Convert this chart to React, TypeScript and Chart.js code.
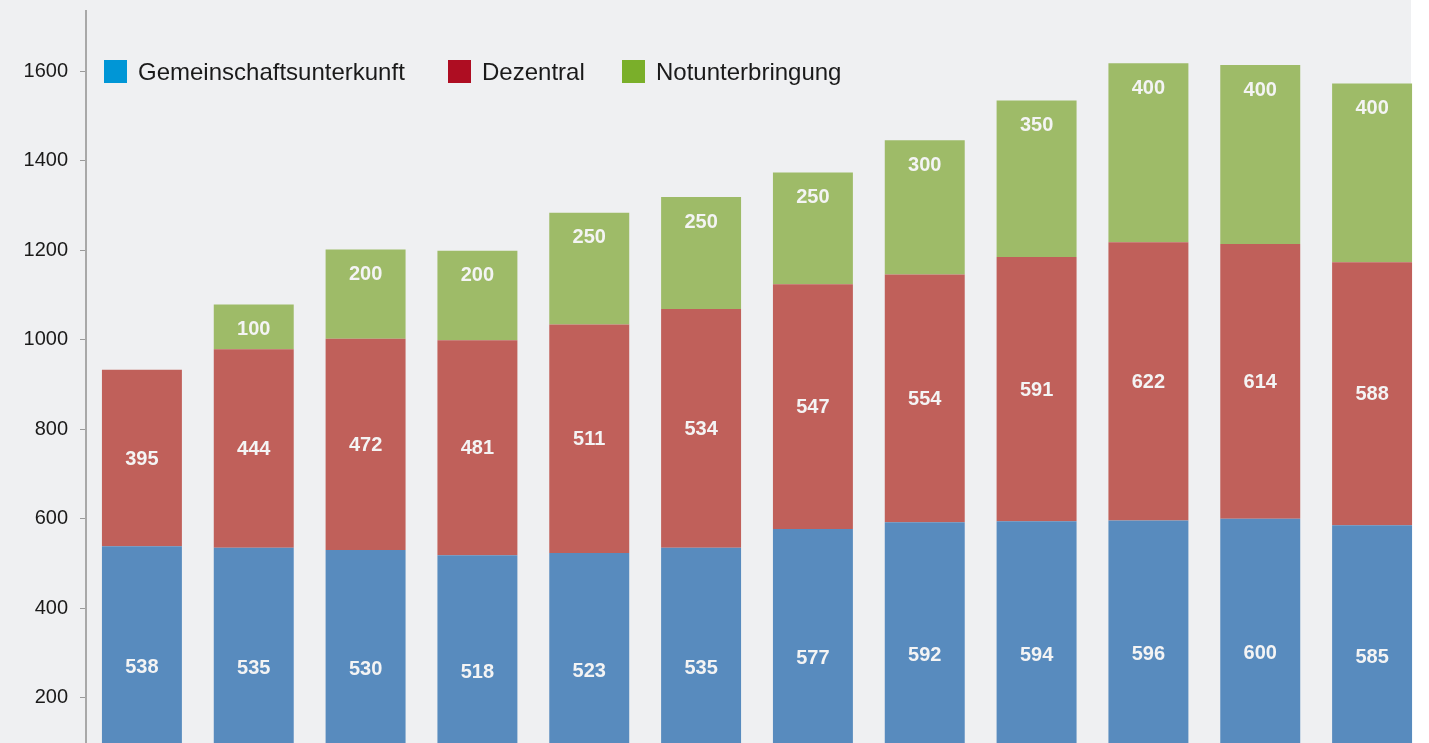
import React, { useEffect, useRef } from "react";
import { Chart, registerables } from "chart.js";

Chart.register(...registerables);

const categories = ["1", "2", "3", "4", "5", "6", "7", "8", "9", "10", "11", "12"];
const gemeinschaft = [538, 535, 530, 518, 523, 535, 577, 592, 594, 596, 600, 585];
const dezentral = [395, 444, 472, 481, 511, 534, 547, 554, 591, 622, 614, 588];
const notunterbringung = [0, 100, 200, 200, 250, 250, 250, 300, 350, 400, 400, 400];
const seriesNames = ["Gemeinschaftsunterkunft", "Dezentral", "Notunterbringung"];
const barColors = ["#588bbe", "#c0605a", "#9ebb68"];
const legendColors = ["#0096d6", "#ae0d22", "#7aaf2a"];
const yTickStep = 200;

const FONT = "'Liberation Sans', Arial, Helvetica, sans-serif";
const LEGEND_X = [104, 448, 622];

const labelPlugin = {
  id: "segLabels",
  afterDatasetsDraw(chart: any) {
    const ctx = chart.ctx;
    ctx.save();
    ctx.font = `bold 20px ${FONT}`;
    ctx.fillStyle = "#f4f4f4";
    ctx.textAlign = "center";
    ctx.textBaseline = "middle";
    chart.data.datasets.forEach((ds: any, di: number) => {
      const meta = chart.getDatasetMeta(di);
      meta.data.forEach((el: any, i: number) => {
        const v = ds.data[i];
        if (!v) return;
        const y = di === 2 ? el.y + 24 : (el.y + el.base) / 2;
        ctx.fillText(String(v), el.x, y + 1);
      });
    });
    ctx.restore();
  },
};

const legendPlugin = {
  id: "customLegend",
  afterDraw(chart: any) {
    const ctx = chart.ctx;
    ctx.save();
    ctx.font = `24px ${FONT}`;
    ctx.textBaseline = "middle";
    const y = 60;
    const box = 23;
    seriesNames.forEach((name, i) => {
      const x = LEGEND_X[i];
      ctx.fillStyle = legendColors[i];
      ctx.fillRect(x, y, box, box);
      ctx.fillStyle = "#1a1a1a";
      ctx.textAlign = "left";
      ctx.fillText(name, x + box + 11, y + box / 2 + 2);
    });
    ctx.restore();
  },
};

export default function App() {
  const ref = useRef<HTMLCanvasElement | null>(null);
  useEffect(() => {
    if (!ref.current) return;
    const chart = new Chart(ref.current, {
      type: "bar",
      data: {
        labels: categories,
        datasets: [
          { label: seriesNames[0], data: gemeinschaft, backgroundColor: barColors[0] },
          { label: seriesNames[1], data: dezentral, backgroundColor: barColors[1] },
          { label: seriesNames[2], data: notunterbringung, backgroundColor: barColors[2] },
        ],
      },
      options: {
        responsive: false,
        animation: false,
        devicePixelRatio: 1,
        layout: { padding: { top: 11, right: 1, bottom: 0, left: 0 } },
        datasets: { bar: { categoryPercentage: 1, barPercentage: 0.715 } },
        plugins: { legend: { display: false }, tooltip: { enabled: false } },
        scales: {
          x: { stacked: true, display: false },
          y: {
            stacked: true,
            min: 0,
            max: 1735,
            afterBuildTicks(scale: any) {
              scale.ticks = scale.ticks.filter((t: any) => t.value > 0 && t.value % yTickStep === 0);
            },
            afterFit(scale: any) {
              scale.width = 86;
              scale.paddingTop = 0;
              scale.paddingBottom = 0;
            },
            ticks: {
              stepSize: yTickStep,
              color: "#1a1a1a",
              font: { family: FONT, size: 20 },
              padding: 12,
              callback: (v: any) => String(v),
            },
            grid: {
              drawOnChartArea: false,
              drawTicks: true,
              tickLength: 6,
              tickColor: "#9a9a9a",
              lineWidth: 1,
            },
            border: { display: true, color: "#a8a8a8", width: 2 },
          },
        },
      },
      plugins: [labelPlugin, legendPlugin],
    });
    return () => chart.destroy();
  }, []);
  return (
    <div style={{ position: "absolute", left: 0, top: 0, width: 1429, height: 743, overflow: "hidden", background: "#ffffff" }}>
      <div style={{ position: "absolute", left: 0, top: 0, width: 1411, height: 743, background: "#eff0f2" }} />
      <canvas ref={ref} width={1429} height={787} style={{ position: "absolute", left: 0, top: 0 }} />
    </div>
  );
}
